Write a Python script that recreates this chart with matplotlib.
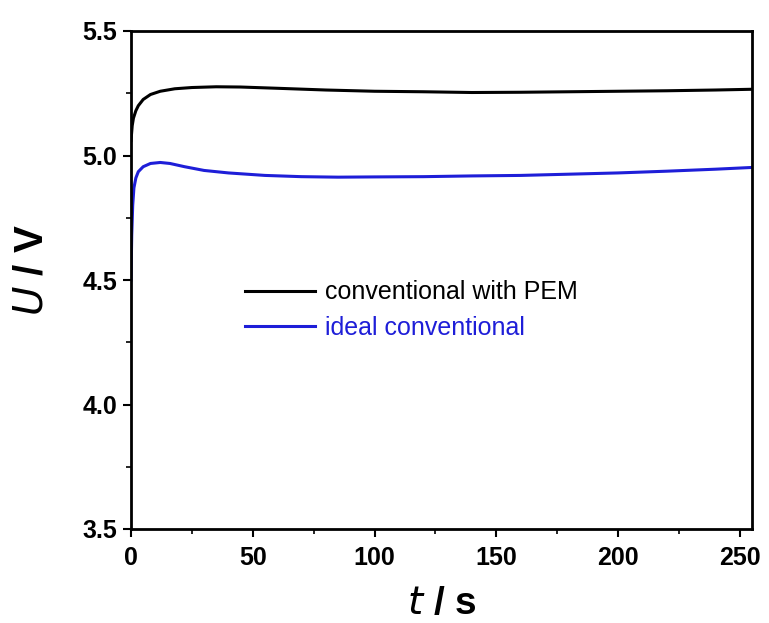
import numpy as np
import matplotlib.pyplot as plt

plt.rcParams['font.family'] = ['Liberation Sans', 'DejaVu Sans']

# readings
t_pem = [0, 0.5, 1, 2, 3, 5, 8, 12, 18, 25, 35, 45, 60, 80, 100, 120, 140,
         160, 180, 200, 220, 240, 255]
u_pem = [5.06, 5.12, 5.15, 5.18, 5.2, 5.225, 5.245, 5.258, 5.268, 5.273, 5.276,
         5.275, 5.27, 5.263, 5.258, 5.256, 5.253, 5.254, 5.256, 5.258, 5.26,
         5.263, 5.266]

t_ideal = [0, 0.3, 0.7, 1.2, 2, 3, 5, 8, 12, 16, 22, 30, 40, 55, 70, 85, 100,
           120, 140, 160, 180, 200, 220, 240, 255]
u_ideal = [4.5, 4.68, 4.8, 4.87, 4.91, 4.935, 4.955, 4.968, 4.972, 4.968,
           4.955, 4.94, 4.93, 4.92, 4.915, 4.913, 4.914, 4.915, 4.918, 4.92,
           4.925, 4.93, 4.937, 4.945, 4.952]

BLUE = '#1e1ed8'

fig = plt.figure(figsize=(7.69, 6.23), dpi=100)
ax = fig.add_axes([131 / 769, 1 - 529 / 623, 621 / 769, 498 / 623])

ax.plot(t_pem, u_pem, color='black', lw=2.2, label='conventional with PEM')
ax.plot(t_ideal, u_ideal, color=BLUE, lw=2.2, label='ideal conventional')

ax.set_xlim(0, 255)
ax.set_ylim(3.5, 5.5)
ax.set_xticks([0, 50, 100, 150, 200, 250])
ax.set_xticks([25, 75, 125, 175, 225], minor=True)
ax.set_yticks([3.5, 4.0, 4.5, 5.0, 5.5])
ax.set_yticks([3.75, 4.25, 4.75, 5.25], minor=True)
ax.set_yticklabels(['3.5', '4.0', '4.5', '5.0', '5.5'])

ax.tick_params(which='major', direction='out', length=6, width=1.5,
               labelsize=18, pad=4)
ax.tick_params(axis='x', which='major', pad=6)
ax.tick_params(which='minor', direction='out', length=3.5, width=1.2)
for lab in ax.get_xticklabels() + ax.get_yticklabels():
    lab.set_fontweight('bold')
for sp in ax.spines.values():
    sp.set_linewidth(2)

ax.set_xlabel(r'$\bf{\it{t}}$ / s', fontsize=28, fontweight='bold', labelpad=12)
ax.set_ylabel(r'$\bf{\it{U}}$ / V', fontsize=29, fontweight='bold')
ax.yaxis.set_label_coords(-0.129, 0.52)

leg = ax.legend(loc='center left', bbox_to_anchor=(0.148, 0.44), frameon=False,
                fontsize=18, handlelength=2.8, handletextpad=0.4,
                labelspacing=0.45)
leg.get_texts()[1].set_color(BLUE)

fig.savefig('out.png', dpi=100)
